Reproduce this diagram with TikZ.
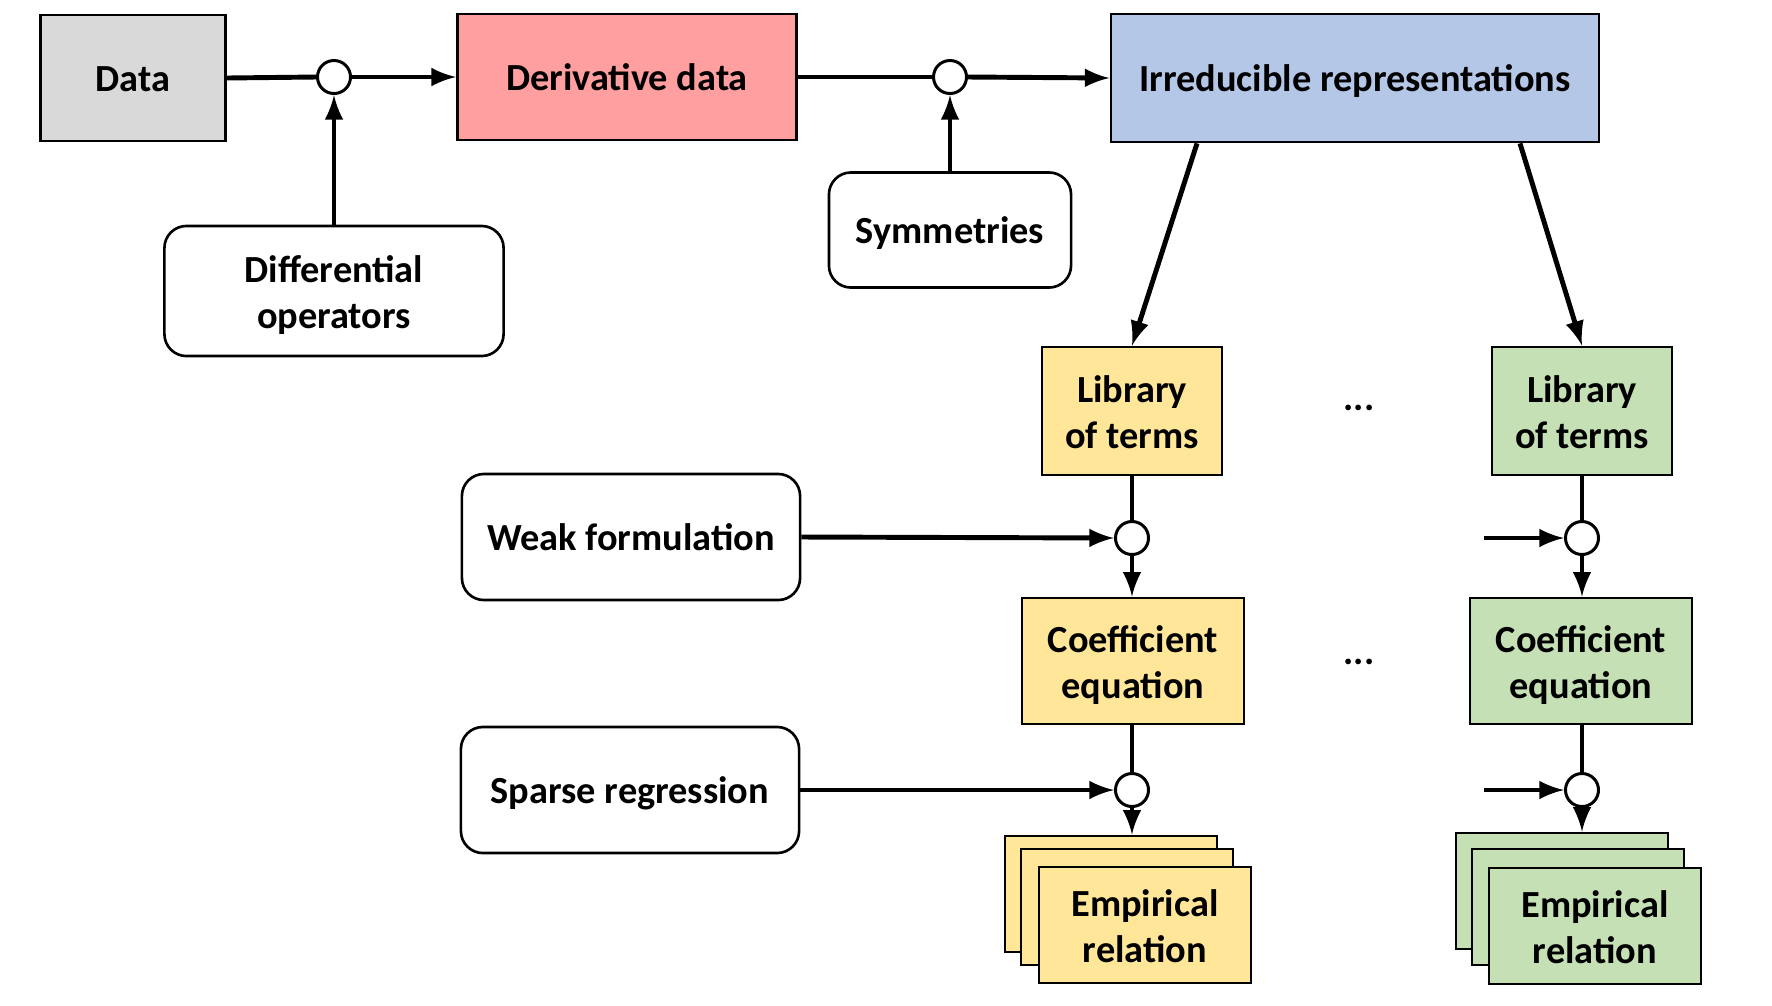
\documentclass[tikz,border=0pt]{standalone}
\usepackage{fontspec}
\setmainfont{Carlito}
\usetikzlibrary{arrows, calc}
\definecolor{datagray}{HTML}{D9D9D9}
\definecolor{derivpink}{HTML}{FF9F9F}
\definecolor{irrblue}{HTML}{B4C7E7}
\definecolor{libyellow}{HTML}{FFE699}
\definecolor{libgreen}{HTML}{C5E0B4}
\tikzset{
    my-box/.style={
        draw, line width=0.75pt, inner sep=0pt, align=center,
        font=\fontsize{10.9}{13.1}\selectfont\bfseries,
        execute at begin node={\rule[-2.5pt]{0pt}{12.4pt}},
        execute at end node={\rule[-2.5pt]{0pt}{2.5pt}}
    },
    my-two-line/.style={
        execute at begin node={\rule[-2.5pt]{0pt}{26.3pt}}
    },
    my-round-box/.style={
        my-box, fill=white, rounded corners=2.2mm
    },
    my-dots/.style={
        font=\fontsize{10.9}{13.1}\selectfont\bfseries
    },
    my-junction/.style={
        circle, draw, fill=white, line width=0.85pt, minimum size=3.3mm, inner sep=0pt
    },
    my-wire/.style={line width=1.4pt},
    my-arrow/.style={my-wire, -latex},
}
\begin{document}
\begin{tikzpicture}[x=0.01cm, y=-0.01cm]

        \useasboundingbox (0,0) rectangle (1772,1005);

        % TOP ROW
        \node[my-box, fill=datagray,  minimum width=1.85cm, minimum height=1.26cm] (DATA)  at (133,78)   {Data};
        \node[my-box, fill=derivpink, minimum width=3.39cm, minimum height=1.26cm] (DERIV) at (627,77)   {Derivative data};
        \node[my-box, fill=irrblue,   minimum width=4.88cm, minimum height=1.28cm] (IRR)   at (1355,78)  {Irreducible representations};

        % JUNCTIONS
        \node[my-junction] (J1)  at (334,77)   {};
        \node[my-junction] (J2)  at (950,77)   {};
        \node[my-junction] (J3Y) at (1132,538) {};
        \node[my-junction] (J3G) at (1582,538) {};
        \node[my-junction] (J4Y) at (1132,790) {};
        \node[my-junction] (J4G) at (1582,790) {};

        % OPERATORS
        \node[my-round-box, my-two-line, minimum width=3.39cm, minimum height=1.30cm] (DIFF) at (334,291) {Differential\\operators};
        \node[my-round-box, minimum width=2.42cm, minimum height=1.15cm] (SYM)    at (950,230) {Symmetries};
        \node[my-round-box, minimum width=3.38cm, minimum height=1.26cm] (WEAK)   at (631,537) {Weak formulation};
        \node[my-round-box, minimum width=3.38cm, minimum height=1.26cm] (SPARSE) at (630,790) {Sparse regression};

        % LIBRARIES AND COEFFICIENTS
        \node[my-box, my-two-line, fill=libyellow, minimum width=1.80cm, minimum height=1.28cm] (LIBY)  at (1132,411) {Library\\of terms};
        \node[my-box, my-two-line, fill=libgreen,  minimum width=1.80cm, minimum height=1.28cm] (LIBG)  at (1582,411) {Library\\of terms};
        \node[my-box, my-two-line, fill=libyellow, minimum width=2.22cm, minimum height=1.26cm] (COEFY) at (1133,661) {Coefficient\\equation};
        \node[my-box, my-two-line, fill=libgreen,  minimum width=2.22cm, minimum height=1.26cm] (COEFG) at (1581,661) {Coefficient\\equation};

        % DOTS
        \node[my-dots] (DOTS1) at (1359,408) {...};
        \node[my-dots] (DOTS2) at (1359,662) {...};

        % EMPIRICAL RELATIONS
        \node[my-box, fill=libyellow, minimum width=2.12cm, minimum height=1.16cm] (EMPY1) at (1111,894) {};
        \node[my-box, fill=libyellow, minimum width=2.12cm, minimum height=1.16cm] (EMPY2) at (1127,907) {};
        \node[my-box, my-two-line, fill=libyellow, minimum width=2.12cm, minimum height=1.16cm] (EMPY3) at (1145,925) {Empirical\\relation};
        \node[my-box, fill=libgreen,  minimum width=2.12cm, minimum height=1.16cm] (EMPG1) at (1562,891) {};
        \node[my-box, fill=libgreen,  minimum width=2.12cm, minimum height=1.16cm] (EMPG2) at (1578,907) {};
        \node[my-box, my-two-line, fill=libgreen,  minimum width=2.12cm, minimum height=1.16cm] (EMPG3) at (1595,926) {Empirical\\relation};

        % FREE ENDS
        \coordinate (GIN1) at (1484,538);
        \coordinate (GIN2) at (1484,790);

        % TOP CONNECTIONS
        \draw[my-wire]  (DATA.east)  -- (J1.west);
        \draw[my-arrow] (J1.east)    -- (DERIV.west);
        \draw[my-arrow] (DIFF.north) -- (J1.south);
        \draw[my-wire]  (DERIV.east) -- (J2.west);
        \draw[my-arrow] (J2.east)    -- (IRR.west);
        \draw[my-arrow] (SYM.north)  -- (J2.south);

        % BRANCHES
        \draw[my-arrow] ($(IRR.south) + (-158,0)$) -- (LIBY.north);
        \draw[my-arrow] ($(IRR.south) + (165,0)$)  -- (LIBG.north);

        % YELLOW COLUMN
        \draw[my-wire]  (LIBY.south)  -- (J3Y.north);
        \draw[my-arrow] (J3Y.south)   -- (COEFY.north -| J3Y);
        \draw[my-arrow] (WEAK.east)   -- (J3Y.west);
        \draw[my-wire]  (COEFY.south -| J4Y) -- (J4Y.north);
        \draw[my-arrow] (J4Y.south)   -- (EMPY1.north -| J4Y);
        \draw[my-arrow] (SPARSE.east) -- (J4Y.west);

        % GREEN COLUMN
        \draw[my-wire]  (LIBG.south)  -- (J3G.north);
        \draw[my-arrow] (J3G.south)   -- (COEFG.north -| J3G);
        \draw[my-arrow] (GIN1)        -- (J3G.west);
        \draw[my-wire]  (COEFG.south -| J4G) -- (J4G.north);
        \draw[my-arrow] (J4G.south)   -- (EMPG1.north -| J4G);
        \draw[my-arrow] (GIN2)        -- (J4G.west);

    \end{tikzpicture}
\end{document}
